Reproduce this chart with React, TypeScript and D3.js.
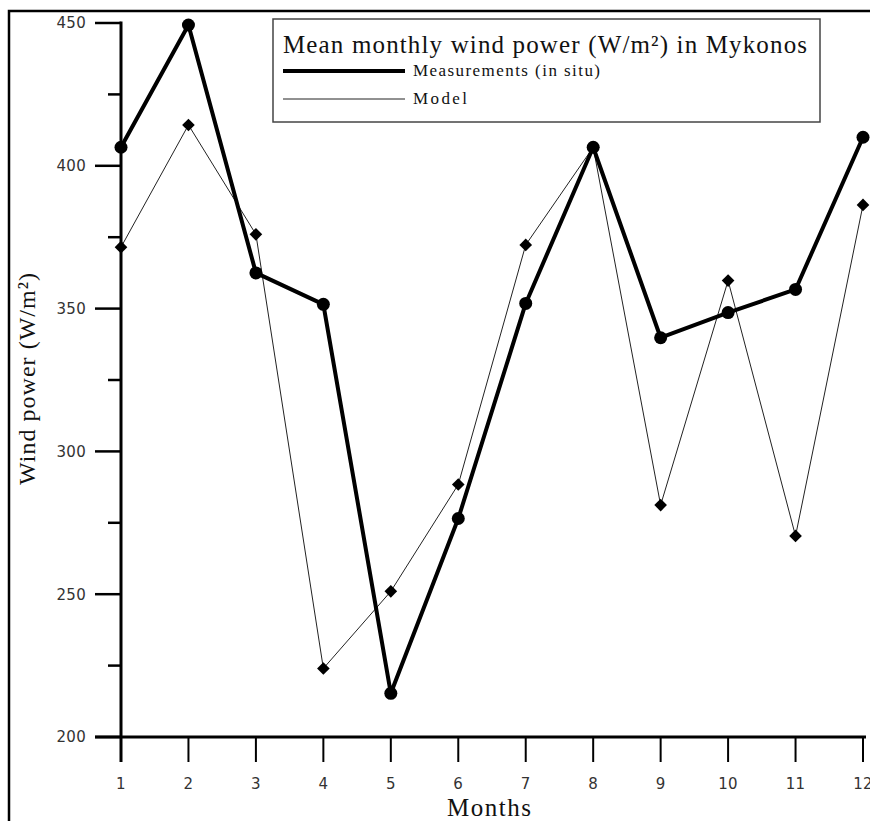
import React from 'react'
import * as d3 from 'd3'

const months = [1, 2, 3, 4, 5, 6, 7, 8, 9, 10, 11, 12]
const measured = [406.5, 449.3, 362.5, 351.5, 215.3, 276.5, 351.8, 406.5, 339.8, 348.6, 356.7, 410]
const model = [371.5, 414.3, 376, 224, 251, 288.4, 372.3, 406.5, 281.2, 359.8, 270.4, 386.3]
const yMajor = [200, 250, 300, 350, 400, 450]
const yMinor = [225, 275, 325, 375, 425]

const W = 870
const H = 821

function App() {
  const x = d3.scaleLinear().domain([1, 12]).range([121, 863])
  const y = d3.scaleLinear().domain([200, 450]).range([737, 23])

  const line = d3.line<number>()
    .x((_, i) => x(months[i]))
    .y(d => y(d))

  const diamond = d3.symbol().type(d3.symbolSquare).size(80)()

  const serif = '"Liberation Serif", "Times New Roman", serif'
  const sans = '"DejaVu Sans", Verdana, sans-serif'

  return (
    <svg width={W} height={H} style={{ position: 'absolute', left: 0, top: 0, background: '#fff' }}>
      {/* outer frame */}
      <rect x={9} y={11} width={900} height={900} fill="none" stroke="#000" strokeWidth={2.5} />

      {/* y axis */}
      <line x1={121} x2={121} y1={y(450) - 1.5} y2={y(200) + 25} stroke="#000" strokeWidth={3} />
      {yMajor.map(v => (
        <g key={'ym' + v}>
          <line x1={95} x2={121} y1={y(v)} y2={y(v)} stroke="#000" strokeWidth={2.5} />
          <text x={86} y={y(v)} dy="0.36em" textAnchor="end" fontFamily={sans} fontSize={15}
            letterSpacing={0.3} fill="#333">{v}</text>
        </g>
      ))}
      {yMinor.map(v => (
        <line key={'yn' + v} x1={108} x2={121} y1={y(v)} y2={y(v)} stroke="#000" strokeWidth={2.5} />
      ))}

      {/* x axis */}
      <line x1={95} x2={866} y1={y(200)} y2={y(200)} stroke="#000" strokeWidth={3} />
      {months.map(m => (
        <g key={'xt' + m}>
          <line x1={x(m)} x2={x(m)} y1={y(200)} y2={762} stroke="#000" strokeWidth={2} />
          <text x={x(m)} y={789} textAnchor="middle" fontFamily={sans} fontSize={15}
            letterSpacing={0.3} fill="#333">{m}</text>
        </g>
      ))}

      {/* axis titles */}
      <text x={489} y={816} textAnchor="middle" fontFamily={serif} fontSize={25}
        textLength={84} lengthAdjust="spacing" fill="#111">Months</text>
      <text transform={`translate(35,379) rotate(-90)`} textAnchor="middle" fontFamily={serif}
        fontSize={24} textLength={212} lengthAdjust="spacing" fill="#111">Wind power (W/m²)</text>

      {/* model series */}
      <path d={line(model) ?? ''} fill="none" stroke="#222" strokeWidth={1} />
      {model.map((v, i) => (
        <path key={'md' + i} d={diamond ?? ''} transform={`translate(${x(months[i])},${y(v)}) rotate(45)`} fill="#000" />
      ))}

      {/* measurement series */}
      <path d={line(measured) ?? ''} fill="none" stroke="#000" strokeWidth={4} strokeLinejoin="round" />
      {measured.map((v, i) => (
        <circle key={'ms' + i} cx={x(months[i])} cy={y(v)} r={6.5} fill="#000" />
      ))}

      {/* legend */}
      <rect x={273} y={19} width={547} height={103} fill="#fff" stroke="#444" strokeWidth={1.5} />
      <text x={283} y={53} fontFamily={serif} fontSize={25} textLength={524} lengthAdjust="spacing"
        fill="#111">Mean monthly wind power (W/m²) in Mykonos</text>
      <line x1={283} x2={405} y1={71} y2={71} stroke="#000" strokeWidth={4} />
      <text x={413} y={76} fontFamily={serif} fontSize={17} textLength={187} lengthAdjust="spacing"
        fill="#111">Measurements (in situ)</text>
      <line x1={283} x2={405} y1={99} y2={99} stroke="#222" strokeWidth={1} />
      <text x={413} y={104} fontFamily={serif} fontSize={17} textLength={54} lengthAdjust="spacing"
        fill="#111">Model</text>
    </svg>
  )
}

export default App
